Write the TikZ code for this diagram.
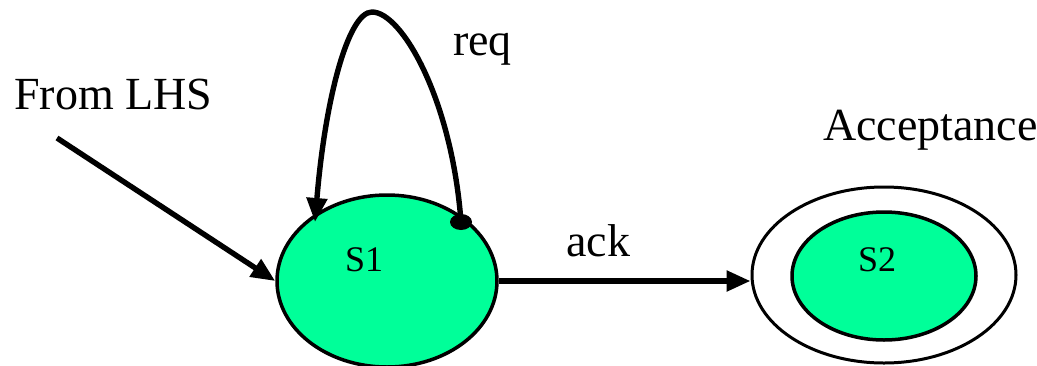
\documentclass[tikz,border=0pt]{standalone}
\usepackage{fontspec}
\setmainfont{Liberation Serif}
\usetikzlibrary{shapes.geometric,arrows.meta}
\definecolor{stategreen}{RGB}{0,255,153}
\tikzset{
  state/.style={ellipse, draw=black, line width=3.5pt, fill=stategreen,
    inner sep=0pt, minimum width=#1},
  bigtext/.style={font=\fontsize{46}{50}\selectfont, inner sep=0pt},
  statetext/.style={font=\fontsize{36}{40}\selectfont, inner sep=0pt},
  arr/.style={line width=5.4pt, -{Triangle[length=24pt,width=20pt]}},
}
\begin{document}
\begin{tikzpicture}[x=1pt,y=-1pt]
  \useasboundingbox (0,0) rectangle (1037,365);

  % states
  \node[state=220pt, minimum height=172pt] (S1) at (387,281) {};
  \node[ellipse, draw=black, line width=3pt, fill=white, inner sep=0pt,
        minimum width=264pt, minimum height=176pt] (S2o) at (884,275) {};
  \node[state=184pt, minimum height=128pt] (S2) at (884,276) {};

  % state names
  \node[statetext, anchor=base west] (t1) at (345,271) {S1};
  \node[statetext, anchor=base west] (t2) at (858,271) {S2};

  % entry arrow
  \coordinate (in) at (57,138);
  \node[bigtext, anchor=base west] (from) at (14,109) {From LHS};
  \draw[arr] (in) -- (S1.west);

  % self loop on S1
  \coordinate (loopstart) at (461,222);
  \coordinate (looptop) at (372,12);
  \coordinate (loopend) at (315,222);
  \draw[arr] (loopstart) .. controls (452,100) and (402,12) .. (looptop)
                         .. controls (348,12) and (325,100) .. (loopend);
  \fill (loopstart) ellipse (11pt and 8pt);
  \node[bigtext, anchor=base west] (req) at (453,55) {req};

  % transition S1 -> S2
  \draw[arr] (S1.east) -- (S1.east -| S2o.west);
  \node[bigtext, anchor=base west] (ack) at (566,256) {ack};

  % accepting label
  \node[bigtext, anchor=base west] (acc) at (823,140) {Acceptance};
\end{tikzpicture}
\end{document}
